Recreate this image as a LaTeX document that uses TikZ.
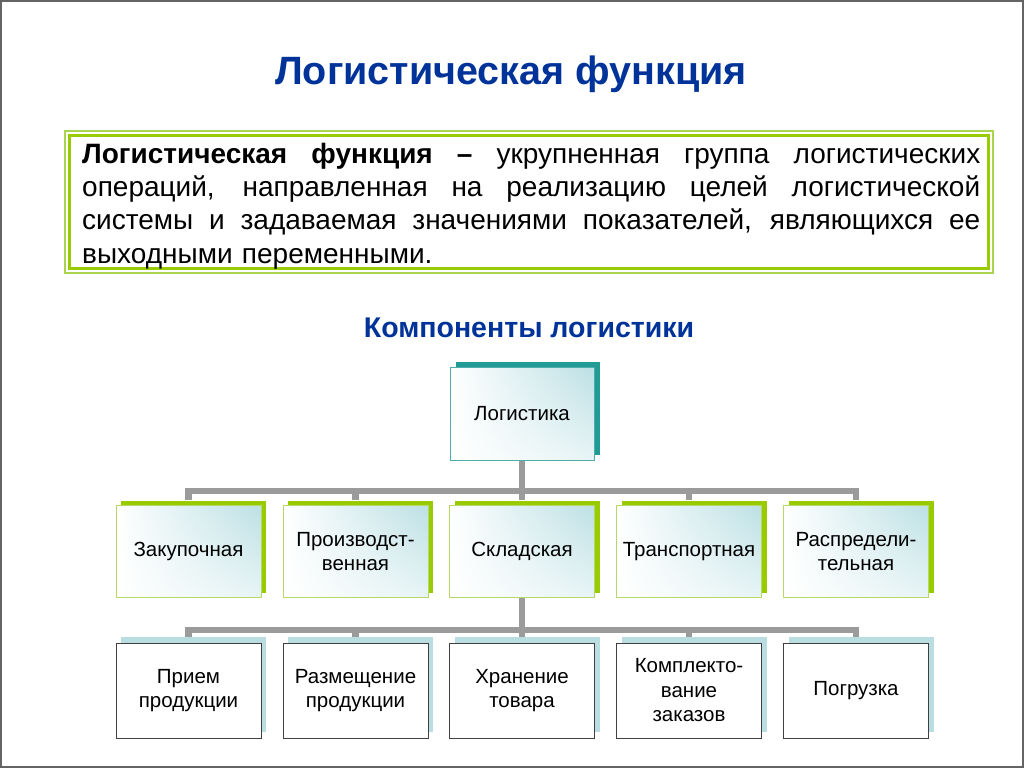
\documentclass[tikz,border=0pt]{standalone}
\usepackage{fontspec}
\setmainfont{Liberation Sans}
\usetikzlibrary{shadows,shadings}
\definecolor{titleblue}{RGB}{0,51,153}
\definecolor{ygreen}{RGB}{153,204,0}
\definecolor{ygreenlt}{RGB}{170,212,80}
\definecolor{ygreenbd}{RGB}{182,216,102}
\definecolor{tealback}{RGB}{32,155,150}
\definecolor{tealbd}{RGB}{80,172,172}
\definecolor{gradc}{RGB}{188,224,228}
\definecolor{blueback}{RGB}{185,221,224}
\definecolor{connc}{RGB}{155,155,155}
\definecolor{framec}{RGB}{100,100,100}
\newcommand{\fullline}[1]{\makebox[898pt][s]{\spaceskip=0pt\xspaceskip=0pt #1}}
\tikzset{
  boxfont/.style={font=\fontsize{20.5}{24.5}\selectfont, align=center, text=black},
  gradbox/.style={boxfont, minimum width=145pt, minimum height=92pt, inner sep=2pt,
    upper left=white, lower left=white, upper right=gradc, lower right=gradc!35},
  rootbox/.style={gradbox, draw=tealbd, line width=1pt, minimum width=144pt, minimum height=93pt,
    general shadow={shadow xshift=6pt, shadow yshift=5pt, fill=tealback}},
  midbox/.style={gradbox, draw=ygreenbd, line width=1pt,
    general shadow={shadow xshift=5pt, shadow yshift=5pt, fill=ygreen}},
  lowbox/.style={boxfont, draw=black!75, line width=1pt, fill=white, minimum width=145pt, minimum height=95pt, inner sep=2pt,
    general shadow={shadow xshift=5pt, shadow yshift=6pt, fill=blueback}},
  conn/.style={draw=connc, line width=6.5pt}
}
\begin{document}
\begin{tikzpicture}[x=1pt,y=-1pt]
\useasboundingbox (0,0) rectangle (1024,768);
\fill[white] (0,0) rectangle (1024,768);
\draw[framec, line width=2pt] (1,1) rectangle (1023,767);

\node[font=\fontsize{39.5}{44}\selectfont\bfseries, text=titleblue] (title) at (511,74) {Логистическая функция};

% definition box
\draw[ygreenlt, line width=1.2pt] (65,131) rectangle (993,273);
\draw[ygreen, line width=3.5pt, fill=white] (69.5,135.5) rectangle (988.5,268.5);
\node[anchor=base west, inner sep=0pt, text width=898pt, align=left,
      font=\fontsize{28}{33.2}\selectfont] (def) at (82,163.5)
  {\fullline{\bfseries Логистическая функция – \mdseries укрупненная группа логистических}\\
   \fullline{операций, направленная на реализацию целей логистической}\\
   \fullline{системы и задаваемая значениями показателей, являющихся ее}\\
   выходными переменными.};

\node[font=\fontsize{28.5}{33}\selectfont\bfseries, text=titleblue] (comp) at (529,328) {Компоненты логистики};

% root
\node[rootbox] (log) at (522,413.5) {Логистика};

% level 2
\node[midbox] (b1) at (188.5,551.5) {Закупочная};
\node[midbox] (b2) at (355.5,551.5) {Производст-\\венная};
\node[midbox] (b3) at (522,551.5) {Складская};
\node[midbox] (b4) at (689,551.5) {Транспортная};
\node[midbox] (b5) at (856,551.5) {Распредели-\\тельная};

% level 3
\node[lowbox] (c1) at (188.5,690.5) {Прием\\продукции};
\node[lowbox] (c2) at (355.5,690.5) {Размещение\\продукции};
\node[lowbox] (c3) at (522,690.5) {Хранение\\товара};
\node[lowbox] (c4) at (689,690.5) {Комплекто-\\вание\\заказов};
\node[lowbox] (c5) at (856,690.5) {Погрузка};

% connectors
\coordinate (j1) at (522,491);
\coordinate (j2) at (522,630);
\draw[conn] (log.south) -- (j1);
\foreach \b in {b1,b2,b4,b5} \draw[conn] (j1) -| ([yshift=5pt]\b.north);
\draw[conn] (j1) -- ([yshift=5pt]b3.north);
\draw[conn] (b3.south) -- (j2);
\foreach \c in {c1,c2,c4,c5} \draw[conn] (j2) -| ([yshift=6pt]\c.north);
\draw[conn] (j2) -- ([yshift=6pt]c3.north);
\end{tikzpicture}
\end{document}
